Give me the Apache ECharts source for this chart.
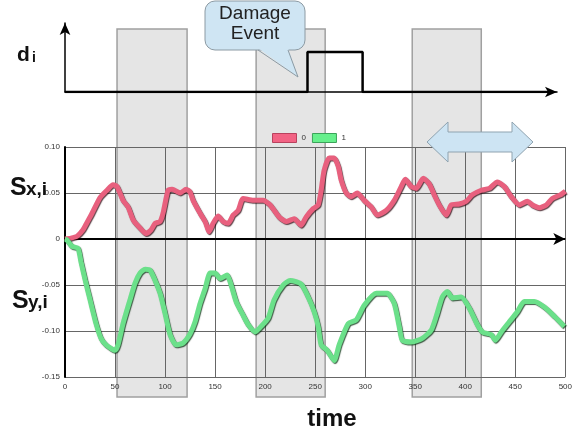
<!DOCTYPE html>
<html><head><meta charset="utf-8">
<script src="https://cdn.jsdelivr.net/npm/echarts/dist/echarts.min.js"></script>
<style>html,body{margin:0;padding:0;background:#fff}#c{width:575px;height:433px}</style>
</head><body><div id="c"></div>
<script>
// ---- data ----
const seriesNames = ['0', '1'];
const sxTime = [0,6,12,18,22,27,35,42,48,52,58,63,68,75,81,86,90,95,98,103,107,115,121,125,128,135,140,144,148,153,158,163,168,173,178,188,198,205,214,221,229,236,241,248,253,256,259,264,269,273,276,281,286,292,299,306,312,321,329,336,340,346,351,358,364,369,374,381,386,394,401,407,416,424,432,439,446,454,462,467,474,481,487,495,500];
const sxValue = [0,0.001,0.003,0.01,0.018,0.028,0.045,0.053,0.059,0.057,0.042,0.035,0.021,0.012,0.006,0.01,0.017,0.019,0.028,0.053,0.054,0.05,0.054,0.051,0.042,0.028,0.019,0.008,0.017,0.025,0.019,0.017,0.026,0.031,0.044,0.042,0.042,0.037,0.024,0.019,0.022,0.015,0.024,0.033,0.037,0.053,0.075,0.088,0.088,0.079,0.064,0.05,0.046,0.05,0.042,0.035,0.026,0.031,0.042,0.057,0.065,0.057,0.055,0.066,0.06,0.048,0.037,0.026,0.037,0.038,0.041,0.048,0.053,0.055,0.062,0.057,0.046,0.037,0.041,0.037,0.034,0.037,0.044,0.048,0.052];
const syTime = [0,2,7,13,16,20,25,31,36,41,50,53,58,65,70,75,80,85,90,95,100,105,111,118,125,130,135,140,145,150,155,162,166,171,178,183,190,196,203,209,218,225,236,243,249,253,256,262,269,274,283,291,299,311,322,329,334,337,346,357,366,371,377,382,387,396,404,412,417,426,430,436,444,452,459,469,479,489,499];
const syValue = [0,-0.001,-0.008,-0.01,-0.025,-0.044,-0.066,-0.092,-0.108,-0.115,-0.121,-0.115,-0.092,-0.066,-0.048,-0.037,-0.033,-0.034,-0.045,-0.059,-0.081,-0.104,-0.115,-0.113,-0.103,-0.09,-0.07,-0.054,-0.037,-0.037,-0.043,-0.039,-0.05,-0.068,-0.083,-0.093,-0.101,-0.095,-0.086,-0.066,-0.05,-0.045,-0.049,-0.063,-0.079,-0.095,-0.115,-0.121,-0.132,-0.115,-0.092,-0.088,-0.072,-0.059,-0.059,-0.07,-0.095,-0.11,-0.112,-0.108,-0.099,-0.084,-0.063,-0.057,-0.064,-0.063,-0.075,-0.093,-0.101,-0.104,-0.11,-0.101,-0.09,-0.079,-0.068,-0.068,-0.074,-0.084,-0.095];
const dTime = [0,242,242,297,297,482];
const dValue = [0,0,1,1,0,0];
const bandStart = [52,191,347];
const bandEnd = [122,260,416];
const yTickLabels = {'0.1':'0.10','0.05':'0.05','0':'0','-0.05':'-0.05','-0.1':'-0.10','-0.15':'-0.15'};

const pink = '#e8607e', green = '#6be08a';
const zip = (a, b) => a.map((v, i) => [v, b[i]]);

const chart = echarts.init(document.getElementById('c'), null, {renderer: 'canvas'});
chart.setOption({
  animation: false,
  backgroundColor: '#fff',
  textStyle: {fontFamily: 'Liberation Sans, Arial, sans-serif'},
  grid: [
    {left: 65, right: 9, top: 147, bottom: 56},
    {left: 65, right: 18, top: 23, bottom: 341}
  ],
  legend: {
    data: [
      {name: seriesNames[0], itemStyle: {color: '#f26384', borderColor: '#b9425e', borderWidth: 1}},
      {name: seriesNames[1], itemStyle: {color: '#66f08c', borderColor: '#3ca35a', borderWidth: 1}}
    ],
    left: 272, top: 133, padding: 0, itemWidth: 24, itemHeight: 9, itemGap: 6, icon: 'rect',
    textStyle: {fontSize: 8, color: '#333'}
  },
  xAxis: [
    {gridIndex: 0, type: 'value', min: 0, max: 500, interval: 50,
     axisLine: {show: true, lineStyle: {color: '#777', width: 1}},
     axisTick: {show: false},
     axisLabel: {fontSize: 8, color: '#333', margin: 6},
     splitLine: {show: true, lineStyle: {color: '#666', width: 1}}},
    {gridIndex: 1, type: 'value', min: 0, max: 491,
     axisLine: {show: true, symbol: ['none', 'arrow'], symbolSize: [8, 12], lineStyle: {color: '#000', width: 1.5}},
     axisTick: {show: false}, axisLabel: {show: false}, splitLine: {show: false}}
  ],
  yAxis: [
    {gridIndex: 0, type: 'value', min: -0.15, max: 0.10, interval: 0.05,
     axisLine: {show: true, lineStyle: {color: '#000', width: 2}},
     axisTick: {show: false},
     axisLabel: {fontSize: 8, color: '#333', margin: 5,
       formatter: v => yTickLabels[String(Math.round(v * 100) / 100)] ?? String(v)},
     splitLine: {show: true, lineStyle: {color: '#666', width: 1}}},
    {gridIndex: 1, type: 'value', min: 0, max: 1.725,
     axisLine: {show: true, symbol: ['none', 'arrow'], symbolSize: [8, 12], lineStyle: {color: '#000', width: 1.5}},
     axisTick: {show: false}, axisLabel: {show: false}, splitLine: {show: false}}
  ],
  series: [
    {name: seriesNames[0], type: 'line', xAxisIndex: 0, yAxisIndex: 0, data: zip(sxTime, sxValue),
     showSymbol: false, smooth: 0.2, z: 5,
     itemStyle: {color: pink},
     lineStyle: {color: pink, width: 5, shadowColor: 'rgba(40,0,10,0.75)', shadowBlur: 1, shadowOffsetX: 0.8, shadowOffsetY: 1},
     markLine: {silent: true, symbol: ['none', 'arrow'], symbolSize: [9, 12], label: {show: false},
       lineStyle: {color: '#000', type: 'solid', width: 2}, data: [{yAxis: 0}]}},
    {name: seriesNames[1], type: 'line', xAxisIndex: 0, yAxisIndex: 0, data: zip(syTime, syValue),
     showSymbol: false, smooth: 0.2, z: 5,
     itemStyle: {color: green},
     lineStyle: {color: green, width: 5, shadowColor: 'rgba(0,40,10,0.75)', shadowBlur: 1, shadowOffsetX: 0.8, shadowOffsetY: 1}},
    {name: 'd', type: 'line', xAxisIndex: 1, yAxisIndex: 1, data: zip(dTime, dValue),
     showSymbol: false, z: 5,
     lineStyle: {color: '#000', width: 2.5}}
  ]
});

// ---- annotations ----
const graphics = [];
bandStart.forEach((s, i) => {
  const x0 = chart.convertToPixel({xAxisIndex: 0}, s);
  const x1 = chart.convertToPixel({xAxisIndex: 0}, bandEnd[i]);
  graphics.push({type: 'rect', z: -1, shape: {x: x0, y: 29, width: x1 - x0, height: 368},
    style: {fill: '#e5e5e5', stroke: '#a0a0a0', lineWidth: 1.5}});
});
// callout
graphics.push({type: 'rect', z: 10, shape: {x: 205, y: 1, width: 100, height: 49, r: 10},
  style: {fill: '#cfe5f3', stroke: '#8c9aa3', lineWidth: 1}});
graphics.push({type: 'polygon', z: 10, shape: {points: [[258, 48], [298, 77], [288, 48]]},
  style: {fill: '#cfe5f3'}});
graphics.push({type: 'polyline', z: 10, shape: {points: [[258, 50], [298, 77], [288, 50]]},
  style: {stroke: '#8c9aa3', lineWidth: 1, fill: null}});
graphics.push({type: 'text', z: 11, x: 255, y: 14, style: {text: 'Damage', fontSize: 19, fill: '#222',
  fontFamily: 'Liberation Sans, Arial, sans-serif', align: 'center', verticalAlign: 'middle'}});
graphics.push({type: 'text', z: 11, x: 255, y: 34, style: {text: 'Event', fontSize: 19, fill: '#222',
  fontFamily: 'Liberation Sans, Arial, sans-serif', align: 'center', verticalAlign: 'middle'}});
// double arrow
graphics.push({type: 'polygon', z: 10, shape: {points: [[427, 142], [448, 122], [448, 132], [512, 132], [512, 122], [533, 142], [512, 162], [512, 152], [448, 152], [448, 162]]},
  style: {fill: '#cde4f3', stroke: '#8fa3b0', lineWidth: 1}});
// axis titles
const bold = (text, x, y, fs, align) => ({type: 'text', z: 11, x, y,
  style: {text, fontSize: fs, fontWeight: 'bold', fill: '#111', fontFamily: 'Liberation Sans, Arial, sans-serif',
    align: align || 'left', verticalAlign: 'middle'}});
graphics.push(bold('d', 17, 55, 21));
graphics.push(bold('i', 32, 58, 14));
graphics.push(bold('S', 10, 188, 25));
graphics.push(bold('x,i', 26, 189.5, 19));
graphics.push(bold('S', 12, 301.5, 25));
graphics.push(bold('y,i', 28, 303, 19));
graphics.push(bold('time', 332, 419.5, 24, 'center'));
chart.setOption({graphic: graphics});
</script></body></html>
